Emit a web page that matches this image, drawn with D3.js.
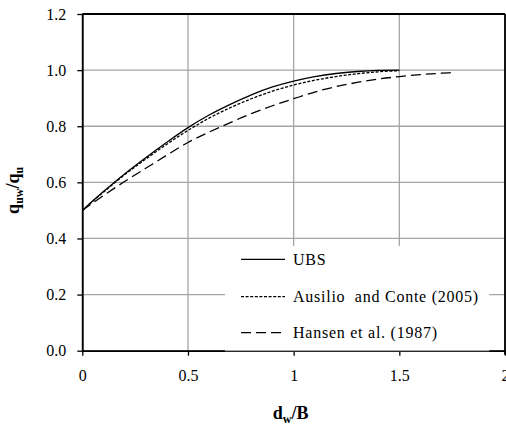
<!DOCTYPE html>
<html>
<head>
<meta charset="utf-8">
<script src="https://cdn.jsdelivr.net/npm/d3@7"></script>
<style>
  html, body { margin: 0; padding: 0; background: #fff; }
  svg { display: block; }
</style>
</head>
<body>
<svg id="chart" width="506" height="427"></svg>
<script>
// Normalised bearing capacity vs. water table depth
const xTicks = [0, 0.5, 1, 1.5, 2];
const xTickLabels = ["0", "0.5", "1", "1.5", "2"];
const yTicks = [0, 0.2, 0.4, 0.6, 0.8, 1.0, 1.2];
const yTickLabels = ["0.0", "0.2", "0.4", "0.6", "0.8", "1.0", "1.2"];

const ubsX = [0, 0.1, 0.2, 0.3, 0.4, 0.5, 0.6, 0.7, 0.8, 0.9, 1.0, 1.1, 1.2, 1.3, 1.4, 1.5];
const ubsY = [0.5, 0.567, 0.630, 0.688, 0.743, 0.795, 0.840, 0.878, 0.912, 0.940, 0.961, 0.977, 0.988, 0.995, 0.999, 1.0];

const ausilioX = [0, 0.1, 0.2, 0.3, 0.4, 0.5, 0.6, 0.7, 0.8, 0.9, 1.0, 1.1, 1.2, 1.3, 1.4, 1.5];
const ausilioY = [0.5, 0.565, 0.627, 0.683, 0.736, 0.785, 0.829, 0.866, 0.898, 0.925, 0.947, 0.964, 0.977, 0.987, 0.994, 0.998];

const hansenX = [0, 0.1, 0.2, 0.3, 0.4, 0.5, 0.6, 0.7, 0.8, 0.9, 1.0, 1.1, 1.2, 1.3, 1.4, 1.5, 1.6, 1.7, 1.75];
const hansenY = [0.5, 0.553, 0.603, 0.650, 0.697, 0.742, 0.779, 0.813, 0.845, 0.873, 0.898, 0.922, 0.941, 0.956, 0.968, 0.977, 0.984, 0.989, 0.991];

const seriesNames = ["UBS", "Ausilio  and Conte (2005)", "Hansen et al. (1987)"];

const FONT = '"Liberation Serif", "Times New Roman", serif';
const svg = d3.select("#chart");
const plotL = 82.3, plotR = 505, plotT = 14, plotB = 350.7;

const x = d3.scaleLinear().domain([0, 2]).range([plotL, plotR]);
const y = d3.scaleLinear().domain([0, 1.2]).range([plotB, plotT]);

// grid
const grid = svg.append("g").attr("stroke", "#a6a6a6").attr("stroke-width", 1.3);
yTicks.forEach(v => grid.append("line")
  .attr("x1", plotL).attr("x2", plotR).attr("y1", y(v)).attr("y2", y(v)));
xTicks.forEach(v => grid.append("line")
  .attr("x1", x(v)).attr("x2", x(v)).attr("y1", plotT).attr("y2", plotB));

// curves
const line = d3.line().x(d => x(d[0])).y(d => y(d[1])).curve(d3.curveMonotoneX);
const series = [
  { xs: ubsX, ys: ubsY, dash: null },
  { xs: ausilioX, ys: ausilioY, dash: "3,1.6" },
  { xs: hansenX, ys: hansenY, dash: "10,5" }
];
series.forEach(s => {
  svg.append("path")
    .datum(s.xs.map((v, i) => [v, s.ys[i]]))
    .attr("d", line)
    .attr("fill", "none")
    .attr("stroke", "#000")
    .attr("stroke-width", 1.3)
    .attr("stroke-dasharray", s.dash);
});

// frame
const frame = svg.append("g").attr("stroke", "#000").attr("stroke-width", 1.8).attr("fill", "none");
frame.append("line").attr("x1", plotL).attr("x2", plotR).attr("y1", plotT).attr("y2", plotT);
frame.append("line").attr("x1", plotR).attr("x2", plotR).attr("y1", plotT).attr("y2", plotB + 4);

// axes
const xAxis = d3.axisBottom(x).tickValues(xTicks).tickFormat((d, i) => xTickLabels[i])
  .tickSizeInner(5).tickSizeOuter(0).tickPadding(14);
const yAxis = d3.axisLeft(y).tickValues(yTicks).tickFormat((d, i) => yTickLabels[i])
  .tickSizeInner(5).tickSizeOuter(0).tickPadding(11);

const gx = svg.append("g").attr("transform", `translate(0,${plotB})`).call(xAxis);
const gy = svg.append("g").attr("transform", `translate(${plotL},0)`).call(yAxis);
[gx, gy].forEach(g => {
  g.select(".domain").attr("stroke", "#000").attr("stroke-width", 1.8);
  g.selectAll(".tick line").attr("stroke", "#000").attr("stroke-width", 1.3);
  g.selectAll(".tick text").style("font-size", "16px")
    .style("font-family", FONT).attr("fill", "#000");
});

// legend box
const legX0 = 225, legX1 = 489.3, legY0 = 246;
const leg = svg.append("g");
leg.append("rect").attr("x", legX0).attr("y", legY0)
  .attr("width", legX1 - legX0).attr("height", plotB - legY0 - 0.5).attr("fill", "#fff");
leg.append("line").attr("x1", legX0).attr("x2", legX1)
  .attr("y1", plotB).attr("y2", plotB).attr("stroke", "#a6a6a6").attr("stroke-width", 1.3);

const legRows = [259.3, 296.7, 332.7];
series.forEach((s, i) => {
  leg.append("line")
    .attr("x1", 241).attr("x2", 285)
    .attr("y1", legRows[i]).attr("y2", legRows[i])
    .attr("stroke", "#000").attr("stroke-width", 1.3)
    .attr("stroke-dasharray", s.dash);
  leg.append("text")
    .attr("x", 293).attr("y", legRows[i] + 5.5)
    .style("font-family", FONT).style("font-size", "16px")
    .style("letter-spacing", "0.75px")
    .style("white-space", "pre")
    .text(seriesNames[i]);
});

// axis titles
const xt = svg.append("text")
  .attr("x", (plotL + plotR) / 2 - 3).attr("y", 419)
  .attr("text-anchor", "middle")
  .style("font-family", FONT).style("font-size", "18px").style("font-weight", "bold");
xt.append("tspan").text("d");
xt.append("tspan").style("font-size", "12px").attr("dy", 4).text("w");
xt.append("tspan").attr("dy", -4).text("/B");

const yt = svg.append("text")
  .attr("transform", `translate(19,${(plotT + plotB) / 2 + 8}) rotate(-90)`)
  .attr("text-anchor", "middle")
  .style("font-family", FONT).style("font-size", "18px").style("font-weight", "bold");
yt.append("tspan").text("q");
yt.append("tspan").style("font-size", "12px").attr("dy", 4).text("uw");
yt.append("tspan").attr("dy", -4).text("/q");
yt.append("tspan").style("font-size", "12px").attr("dy", 4).text("u");
</script>
</body>
</html>
